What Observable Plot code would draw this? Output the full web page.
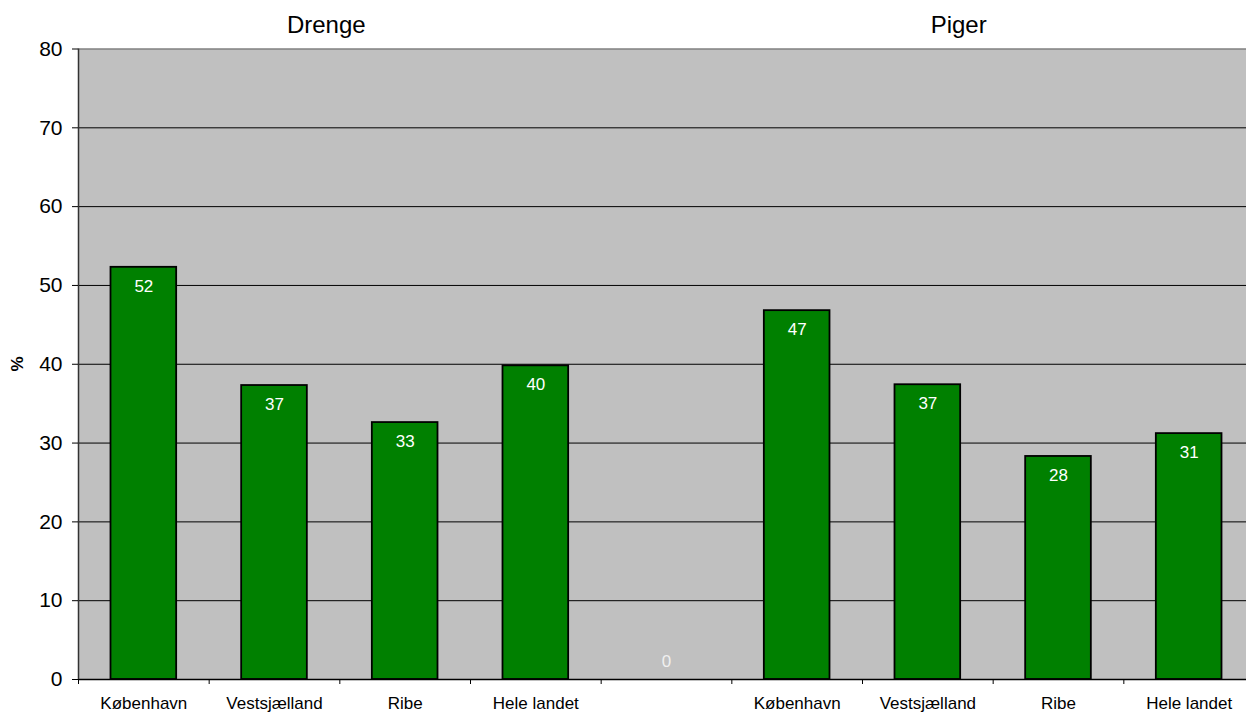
<!DOCTYPE html>
<html>
<head>
<meta charset="utf-8">
<script src="https://cdn.jsdelivr.net/npm/d3@7"></script>
<script src="https://cdn.jsdelivr.net/npm/@observablehq/plot@0.6"></script>
<style>
  html, body { margin: 0; padding: 0; background: #fff; overflow: hidden; }
  #wrap { position: relative; width: 1246px; height: 713px; overflow: hidden; font-family: "Liberation Sans", Arial, sans-serif; }
  #chart { position: absolute; left: 0; top: 0; width: 1254px; }
  #chart svg { max-width: none !important; height: 713px !important; }
  .group-title { position: absolute; top: 11px; font-size: 24px; color: #000; transform: translateX(-50%); white-space: nowrap; }
  .y-title { position: absolute; left: 18px; top: 364px; font-size: 17px; font-weight: bold; transform: translate(-50%, -50%) rotate(-90deg); }
</style>
</head>
<body>
<div id="wrap">
  <div id="chart"></div>
</div>
<script>
// Share (%) by region, boys and girls
const regions = ["København", "Vestsjælland", "Ribe", "Hele landet"];
const drenge = [52.3, 37.3, 32.6, 39.8];
const piger = [46.8, 37.4, 28.3, 31.2];
const groupTitles = ["Drenge", "Piger"];
const yTicks = [0, 10, 20, 30, 40, 50, 60, 70, 80];
const yTitle = "%";

// Nine slots: four regions, an empty spacer slot, four regions
const categories = [...regions, "", ...regions];
const values = [...drenge, 0, ...piger];
const data = categories.map((c, i) => ({i, c, v: values[i]}));
const fmt = d3.format(".0f");

const font = "Liberation Sans, Arial, sans-serif";

const chart = Plot.plot({
  width: 1254,
  height: 713,
  marginLeft: 78,
  marginRight: 0,
  marginTop: 48.5,
  marginBottom: 34,
  style: {fontFamily: font, background: "transparent", overflow: "visible", maxWidth: "none"},
  x: {type: "linear", domain: [0, categories.length], axis: null},
  y: {domain: [0, 80], axis: null},
  marks: [
    Plot.frame({fill: "#c0c0c0", stroke: null}),
    // horizontal gridlines
    Plot.ruleY(yTicks.filter(t => t > 0 && t < 80), {stroke: "#000", strokeWidth: 1}),
    Plot.ruleY([80], {stroke: "#808080", strokeWidth: 1.5}),
    // bars
    Plot.rectY(data.filter(d => d.v > 0), {
      x1: d => d.i, x2: d => d.i + 1, y1: 0, y2: "v",
      insetLeft: 32.5, insetRight: 32.5,
      fill: "#008000", stroke: "#000", strokeWidth: 1.8
    }),
    // value labels inside the top of each bar
    Plot.text(data.filter(d => d.v > 0), {
      x: d => d.i + 0.5, y: "v", text: d => fmt(d.v),
      dy: 19, fill: "#fff", fontSize: 17, lineAnchor: "middle"
    }),
    Plot.text(data.filter(d => d.v === 0), {
      x: d => d.i + 0.5, y: "v", text: d => fmt(d.v),
      dy: -18, fill: "#f0f0f0", fontSize: 17, lineAnchor: "middle"
    }),
    // axes lines
    Plot.ruleY([0], {stroke: "#000", strokeWidth: 1.5}),
    Plot.ruleX([0], {stroke: "#333", strokeWidth: 1.5}),
    Plot.axisY(yTicks, {tickSize: 6, tickPadding: 10, fontSize: 21, stroke: "#000", fill: "#000", label: null}),
    // category boundary ticks
    Plot.axisX(d3.range(categories.length + 1), {tickSize: 5, tickFormat: () => "", stroke: "#000", label: null}),
    // category labels centred in each slot
    Plot.axisX(d3.range(categories.length).map(i => i + 0.5), {
      tickSize: 0, tickPadding: 17, fontSize: 17, fill: "#000", label: null,
      tickFormat: v => categories[Math.floor(v)]
    })
  ]
});
document.getElementById("chart").appendChild(chart);

// Group titles and y-axis title
const wrap = document.getElementById("wrap");
const xs = chart.scale("x");
const titleSlots = [1.9, 6.74];
groupTitles.forEach((t, k) => {
  const el = document.createElement("div");
  el.className = "group-title";
  el.textContent = t;
  el.style.left = xs.apply(titleSlots[k]) + "px";
  wrap.appendChild(el);
});
const yt = document.createElement("div");
yt.className = "y-title";
yt.textContent = yTitle;
wrap.appendChild(yt);
</script>
</body>
</html>
